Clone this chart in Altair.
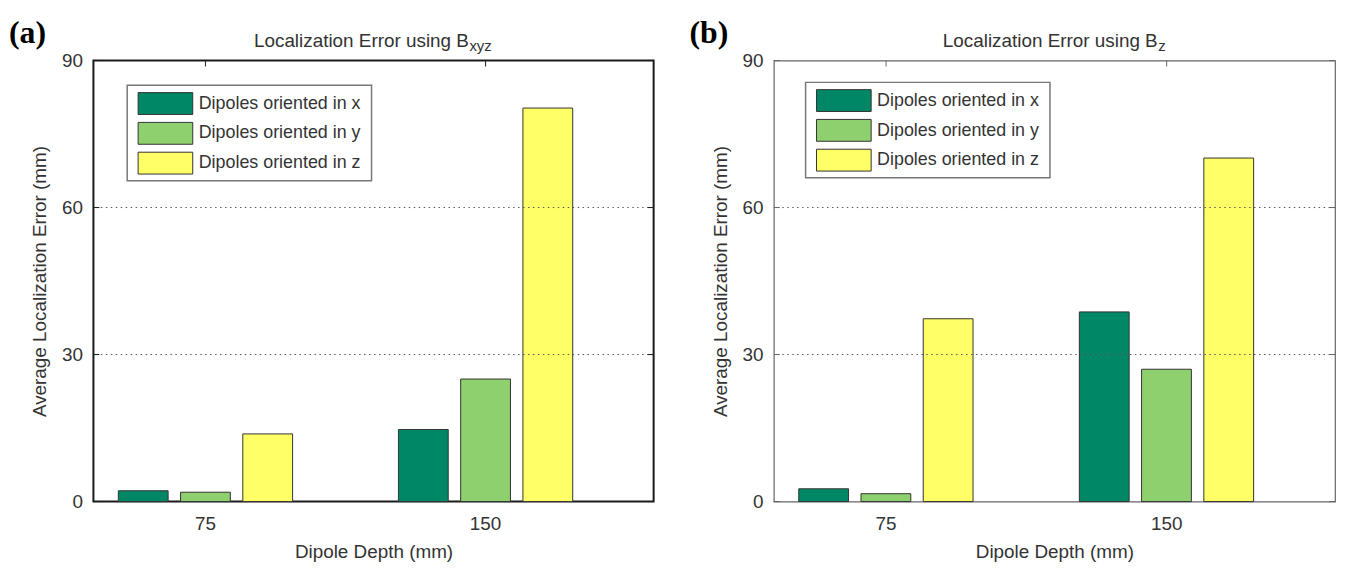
import altair as alt
import pandas as pd

depths = ["75", "150"]
series = ["Dipoles oriented in x", "Dipoles oriented in y", "Dipoles oriented in z"]
colors = ["#008766", "#8ed06e", "#ffff66"]

# Panel (a): B_xyz
bxyz_x = [2.2, 14.7]
bxyz_y = [1.9, 25.0]
bxyz_z = [13.8, 80.3]
# Panel (b): B_z
bz_x = [2.6, 38.7]
bz_y = [1.6, 27.0]
bz_z = [37.3, 70.1]

y_ticks = [0, 30, 60, 90]
grid_values = [30, 60]
FONT = "Liberation Sans"
TXT = "#333333"
W_A, W_B, H = 564, 565, 444


def panel(vals, tag, subscript, w, lx, ly, frame_color, frame_w, title_off):
    df = pd.DataFrame(
        [{"depth": d, "series": s, "value": v}
         for s, vs in zip(series, vals) for d, v in zip(depths, vs)]
    )
    xscale = alt.Scale(domain=depths, paddingInner=1 / 3, paddingOuter=1 / 6, align=0.2)
    yscale = alt.Scale(domain=[0, 90], nice=False)
    xaxis = alt.Axis(title="Dipole Depth (mm)", labelAngle=0, ticks=False,
                     domain=False, labelPadding=13, titlePadding=9)
    yaxis = alt.Axis(title="Average Localization Error (mm)", values=y_ticks,
                     ticks=False, domain=False, grid=False, labelFlush=False,
                     labelPadding=11, titlePadding=12)

    bars = alt.Chart(df).mark_bar(stroke="#333333", strokeWidth=1).encode(
        x=alt.X("depth:N", sort=depths, scale=xscale, axis=xaxis),
        xOffset=alt.XOffset("series:N", sort=series,
                            scale=alt.Scale(domain=series, paddingInner=0.2, paddingOuter=0.1)),
        y=alt.Y("value:Q", scale=yscale, axis=yaxis),
        color=alt.Color("series:N", scale=alt.Scale(domain=series, range=colors), legend=None),
    )

    grid = alt.Chart(pd.DataFrame({"value": grid_values})).mark_rule(
        color="#555555", strokeDash=[1.5, 3.5], strokeWidth=1
    ).encode(y=alt.Y("value:Q", scale=yscale, axis=yaxis))

    tdf = pd.DataFrame({"value": y_ticks})
    lticks = alt.Chart(tdf).mark_rule(color=frame_color, strokeWidth=1).encode(
        y=alt.Y("value:Q", scale=yscale, axis=yaxis), x=alt.value(0), x2=alt.value(6))
    rticks = alt.Chart(tdf).mark_rule(color=frame_color, strokeWidth=1).encode(
        y=alt.Y("value:Q", scale=yscale, axis=yaxis), x=alt.value(w - 6), x2=alt.value(w))
    ddf = pd.DataFrame({"depth": depths})
    tticks = alt.Chart(ddf).mark_rule(color=frame_color, strokeWidth=1).encode(
        x=alt.X("depth:N", sort=depths, scale=xscale, bandPosition=0.5, axis=xaxis),
        y=alt.value(0), y2=alt.value(6))

    one = pd.DataFrame({"k": [0]})
    legbox = alt.Chart(one).mark_rect(fill="white", stroke="#777777", strokeWidth=1.5).encode(
        x=alt.value(lx), x2=alt.value(lx + 246), y=alt.value(ly), y2=alt.value(ly + 96))
    ldf = pd.DataFrame({"series": series, "idx": [0, 1, 2]})
    legsw = alt.Chart(ldf).transform_calculate(
        ry=f"{ly} + 7.3 + 30 * datum.idx", ry2=f"{ly} + 29.3 + 30 * datum.idx"
    ).mark_rect(stroke="#333333", strokeWidth=1).encode(
        x=alt.value(lx + 11), x2=alt.value(lx + 66),
        y=alt.Y("ry:Q", scale=None), y2=alt.Y2("ry2:Q"),
        color=alt.Color("series:N", scale=alt.Scale(domain=series, range=colors), legend=None),
    )
    legtx = alt.Chart(ldf).transform_calculate(
        ty=f"{ly} + 18.5 + 30 * datum.idx"
    ).mark_text(align="left", baseline="middle", fontSize=18, font=FONT, color=TXT).encode(
        x=alt.value(lx + 72), y=alt.Y("ty:Q", scale=None), text="series:N")

    title_main = alt.Chart(one).mark_text(
        align="right", baseline="alphabetic", fontSize=19, font=FONT, color=TXT
    ).encode(x=alt.value(w / 2 + title_off), y=alt.value(-14),
             text=alt.value("Localization Error using B"))
    title_sub = alt.Chart(one).mark_text(
        align="left", baseline="alphabetic", fontSize=15, font=FONT, color=TXT
    ).encode(x=alt.value(w / 2 + title_off + 0.5), y=alt.value(-10), text=alt.value(subscript))
    tag_txt = alt.Chart(one).mark_text(
        align="left", baseline="alphabetic", fontSize=32, font="Liberation Serif",
        fontWeight="bold", color="black"
    ).encode(x=alt.value(-85), y=alt.value(-18), text=alt.value(tag))

    return alt.layer(
        bars, grid, lticks, rticks, tticks, legbox, legsw, legtx, title_main, title_sub, tag_txt
    ).properties(width=w, height=H,
                 view=alt.ViewBackground(stroke=frame_color, strokeWidth=frame_w, fill="white"))


left = panel([bxyz_x, bxyz_y, bxyz_z], "(a)", "xyz", W_A, 34, 25, "#1a1a1a", 2, 96)
right = panel([bz_x, bz_y, bz_z], "(b)", "z", W_B, 32, 22, "#666666", 1.2, 104)

chart = alt.hconcat(left, right, spacing=33).properties(
    padding={"left": 0, "top": 6, "right": 0, "bottom": 0}, background="white"
).configure_axis(
    labelFont=FONT, titleFont=FONT, labelFontSize=19, titleFontSize=19,
    labelColor=TXT, titleColor=TXT, titleFontWeight="normal"
)

chart.save("out.html", embed_options={"renderer": "svg", "actions": False})
